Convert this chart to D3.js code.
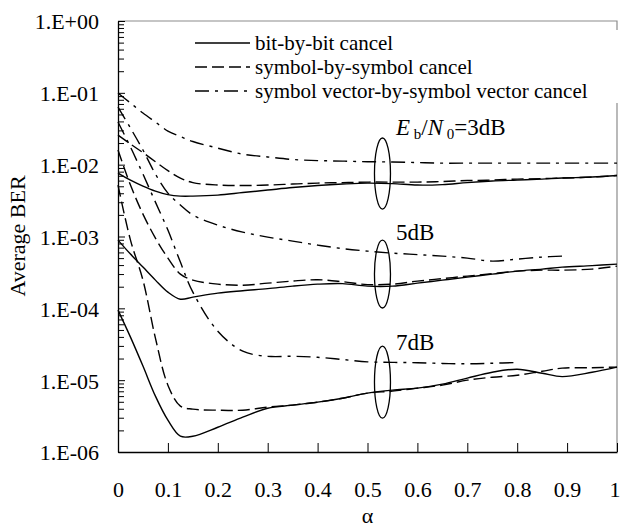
<!DOCTYPE html>
<html>
<head>
<meta charset="utf-8">
<script src="https://cdn.jsdelivr.net/npm/d3@7"></script>
<style>
  body { margin: 0; background: #fff; }
  svg { display: block; font-family: "Liberation Serif", "Times New Roman", serif; }
</style>
</head>
<body>
<svg id="chart" width="621" height="528"></svg>
<script>
// alpha samples shared by every curve (null = no point)
const alpha = [0, 0.025, 0.05, 0.075, 0.1, 0.125, 0.15, 0.2, 0.25, 0.3, 0.35, 0.4,
  0.45, 0.5, 0.55, 0.6, 0.65, 0.7, 0.75, 0.8, 0.85, 0.89, 0.95, 1];

// Eb/N0 = 3dB
const bit3 = [7.64e-3, 6.10e-3, 5.04e-3, 4.29e-3, 3.83e-3, 3.65e-3, 3.65e-3, 3.77e-3, 4.09e-3, 4.43e-3, 4.80e-3, 5.12e-3,
  5.37e-3, 5.54e-3, 5.45e-3, 5.20e-3, 5.28e-3, 5.63e-3, 5.91e-3, 6.10e-3, 6.30e-3, 6.51e-3, 6.72e-3, 7.05e-3];
const sym3 = [2.58e-2, 1.94e-2, 1.47e-2, 1.10e-2, 8.27e-3, 6.51e-3, 5.63e-3, 5.20e-3, 5.12e-3, 5.20e-3, 5.37e-3, 5.54e-3,
  5.63e-3, 5.72e-3, 5.72e-3, 5.72e-3, 5.82e-3, 6.01e-3, 6.10e-3, 6.30e-3, 6.40e-3, 6.51e-3, 6.72e-3, 7.05e-3];
const vec3 = [9.94e-2, 7.21e-2, 5.23e-2, 3.92e-2, 2.94e-2, 2.46e-2, 2.10e-2, 1.70e-2, 1.40e-2, 1.28e-2, 1.18e-2, 1.14e-2,
  1.12e-2, 1.10e-2, 1.09e-2, 1.07e-2, 1.05e-2, 1.05e-2, 1.05e-2, 1.05e-2, 1.05e-2, 1.05e-2, 1.05e-2, 1.05e-2];

// Eb/N0 = 5dB
const bit5 = [8.91e-4, 5.69e-4, 3.75e-4, 2.47e-4, 1.68e-4, 1.34e-4, 1.43e-4, 1.63e-4, 1.76e-4, 1.88e-4, 2.04e-4, 2.17e-4,
  2.21e-4, 2.04e-4, 2.04e-4, 2.24e-4, 2.47e-4, 2.72e-4, 2.99e-4, 3.30e-4, 3.52e-4, 3.75e-4, 3.93e-4, 4.13e-4];
const sym5 = [1.60e-2, 5.20e-3, 2.05e-3, 9.50e-4, 5.00e-4, 2.99e-4, 2.47e-4, 2.17e-4, 2.10e-4, 2.24e-4, 2.40e-4, 2.50e-4,
  2.35e-4, 2.14e-4, 2.17e-4, 2.39e-4, 2.59e-4, 2.81e-4, 3.04e-4, 3.30e-4, 3.40e-4, 3.40e-4, 3.52e-4, 3.87e-4];
const vec5 = [6.34e-2, 3.23e-2, 1.60e-2, 7.40e-3, 4.02e-3, 2.74e-3, 1.99e-3, 1.44e-3, 1.15e-3, 9.81e-4, 8.63e-4, 7.59e-4,
  6.78e-4, 6.26e-4, 5.87e-4, 5.60e-4, 5.33e-4, 5.00e-4, 4.54e-4, 4.84e-4, 5.17e-4, 5.33e-4, null, null];

// Eb/N0 = 7dB
const bit7 = [9.44e-5, 3.97e-5, 1.57e-5, 5.99e-6, 2.77e-6, 1.66e-6, 1.66e-6, 2.21e-6, 3.05e-6, 4.07e-6, 4.49e-6, 4.94e-6,
  5.61e-6, 6.59e-6, 7.26e-6, 7.74e-6, 8.80e-6, 1.07e-5, 1.29e-5, 1.42e-5, 1.25e-5, 1.12e-5, 1.29e-5, 1.52e-5];
const sym7 = [5.20e-3, 8.91e-4, 2.47e-4, 3.85e-5, 8.52e-6, 4.35e-6, 3.95e-6, 3.82e-6, 3.82e-6, 4.21e-6, 4.49e-6, 4.94e-6,
  5.61e-6, 6.59e-6, 7.03e-6, 7.74e-6, 8.52e-6, 1.00e-5, 1.10e-5, 1.17e-5, 1.33e-5, 1.47e-5, 1.49e-5, 1.52e-5];
const vec7 = [3.92e-2, 1.76e-2, 7.40e-3, 3.01e-3, 1.23e-3, 4.40e-4, 1.68e-4, 4.81e-5, 2.53e-5, 2.15e-5, 2.15e-5, 2.08e-5,
  1.94e-5, 1.80e-5, 1.77e-5, 1.75e-5, 1.71e-5, 1.69e-5, 1.72e-5, 1.76e-5, null, null, null, null];

const methodNames = ["bit-by-bit cancel", "symbol-by-symbol cancel", "symbol vector-by-symbol vector cancel"];
const xTicks = [0, 0.1, 0.2, 0.3, 0.4, 0.5, 0.6, 0.7, 0.8, 0.9, 1];
const yTicks = [1e-6, 1e-5, 1e-4, 1e-3, 1e-2, 1e-1, 1];

// SNR group annotations (oval + label)
const snrNames = ["3dB", "5dB", "7dB"];
const ovalAlpha = 0.53;
const ovalTop = [2.35e-2, 8.91e-4, 2.97e-5];
const ovalBottom = [2.41e-3, 1.01e-4, 2.96e-6];
const labelAlpha = 0.557;
const labelBER = [2.58e-2, 8.91e-4, 2.62e-5];

const dashes = ["none", "12,5", "14,6,3,6"];
const series = [
  { values: bit3, m: 0 }, { values: sym3, m: 1 }, { values: vec3, m: 2 },
  { values: bit5, m: 0 }, { values: sym5, m: 1 }, { values: vec5, m: 2 },
  { values: bit7, m: 0 }, { values: sym7, m: 1 }, { values: vec7, m: 2 },
];

const svg = d3.select("#chart");
const plotLeft = 118, plotRight = 617, plotTop = 21, plotBottom = 452;

const x = d3.scaleLinear().domain([0, 1]).range([plotLeft, plotRight]);
const y = d3.scaleLog().domain([1e-6, 1]).range([plotBottom, plotTop]);

// gray frame on top and right
svg.append("path")
  .attr("d", `M${plotLeft},${plotTop}H${plotRight}V${plotBottom}`)
  .attr("fill", "none")
  .attr("stroke", "#8c8c8c")
  .attr("stroke-width", 1.2);

const line = d3.line()
  .defined((d) => d[1] != null)
  .x((d) => x(d[0]))
  .y((d) => y(d[1]))
  .curve(d3.curveCatmullRom.alpha(0.5));

svg.append("g")
  .selectAll("path")
  .data(series)
  .enter()
  .append("path")
  .attr("d", (s) => line(alpha.map((a, i) => [a, s.values[i]])))
  .attr("fill", "none")
  .attr("stroke", "#000")
  .attr("stroke-width", 1.4)
  .attr("stroke-dasharray", (s) => dashes[s.m]);

// ovals
svg.append("g")
  .selectAll("ellipse")
  .data(snrNames)
  .enter()
  .append("ellipse")
  .attr("cx", x(ovalAlpha))
  .attr("cy", (d, i) => (y(ovalTop[i]) + y(ovalBottom[i])) / 2)
  .attr("rx", 8)
  .attr("ry", (d, i) => (y(ovalBottom[i]) - y(ovalTop[i])) / 2)
  .attr("fill", "none")
  .attr("stroke", "#000")
  .attr("stroke-width", 1.3);

// SNR labels
snrNames.forEach((name, i) => {
  const t = svg.append("text")
    .attr("x", x(labelAlpha))
    .attr("y", y(labelBER[i]))
    .attr("font-size", 23);
  if (i === 0) {
    t.append("tspan").attr("font-style", "italic").text("E");
    t.append("tspan").attr("font-size", 15).attr("dy", 4).text(" b");
    t.append("tspan").attr("dy", -4).text("/");
    t.append("tspan").attr("font-style", "italic").text("N");
    t.append("tspan").attr("font-size", 15).attr("dy", 4).text(" 0");
    t.append("tspan").attr("dy", -4).text("=" + name);
  } else {
    t.text(name);
  }
});

// legend
const legend = svg.append("g");
legend.append("rect")
  .attr("x", 186).attr("y", 30).attr("width", 435).attr("height", 73)
  .attr("fill", "#fff");
methodNames.forEach((name, i) => {
  const ly = 43 + i * 24;
  legend.append("line")
    .attr("x1", 195).attr("x2", 250)
    .attr("y1", ly).attr("y2", ly)
    .attr("stroke", "#000")
    .attr("stroke-width", 1.4)
    .attr("stroke-dasharray", dashes[i]);
  legend.append("text")
    .attr("x", 255).attr("y", ly + 7)
    .attr("font-size", 21)
    .text(name);
});

// left axis: minor ticks then major ticks with labels
const minorTicks = [];
for (let e = -6; e < 0; e++) {
  for (let k = 2; k <= 9; k++) minorTicks.push(k * Math.pow(10, e));
}
const fmtE = (d) => {
  const e = Math.round(Math.log10(d));
  return "1.E" + (e < 0 ? "-" : "+") + String(Math.abs(e)).padStart(2, "0");
};

svg.append("g")
  .attr("transform", `translate(${plotLeft},0)`)
  .call(d3.axisLeft(y).tickValues(minorTicks).tickSize(-6).tickFormat(""))
  .call((g) => g.select(".domain").remove())
  .selectAll("line").attr("stroke", "#000");

const yAxis = svg.append("g")
  .attr("transform", `translate(${plotLeft},0)`)
  .call(d3.axisLeft(y).tickValues(yTicks).tickSizeInner(-7).tickSizeOuter(0).tickFormat(fmtE));
yAxis.select(".domain").attr("stroke", "#000").attr("stroke-width", 1.3);
yAxis.selectAll("text")
  .attr("x", -19)
  .attr("dy", "0.36em")
  .attr("font-size", 22)
  .attr("font-family", "Liberation Serif, Times New Roman, serif")
  .attr("fill", "#000");

const xAxis = svg.append("g")
  .attr("transform", `translate(0,${plotBottom})`)
  .call(d3.axisBottom(x).tickValues(xTicks).tickSizeInner(-9).tickSizeOuter(0).tickFormat((d) => String(d)));
xAxis.select(".domain").attr("stroke", "#000").attr("stroke-width", 1.3);
xAxis.selectAll("text")
  .attr("y", 45)
  .attr("dy", 0)
  .attr("font-size", 22)
  .attr("font-family", "Liberation Serif, Times New Roman, serif")
  .attr("fill", "#000");
// last label sits at the right edge of the page
xAxis.selectAll("text")
  .filter((d) => d === 1)
  .attr("text-anchor", "end")
  .attr("x", 3);

// axis titles
svg.append("text")
  .attr("transform", "translate(25,236) rotate(-90)")
  .attr("text-anchor", "middle")
  .attr("font-size", 22)
  .text("Average BER");

svg.append("text")
  .attr("x", x(0.5))
  .attr("y", 523)
  .attr("text-anchor", "middle")
  .attr("font-size", 22)
  .text("α");
</script>
</body>
</html>
